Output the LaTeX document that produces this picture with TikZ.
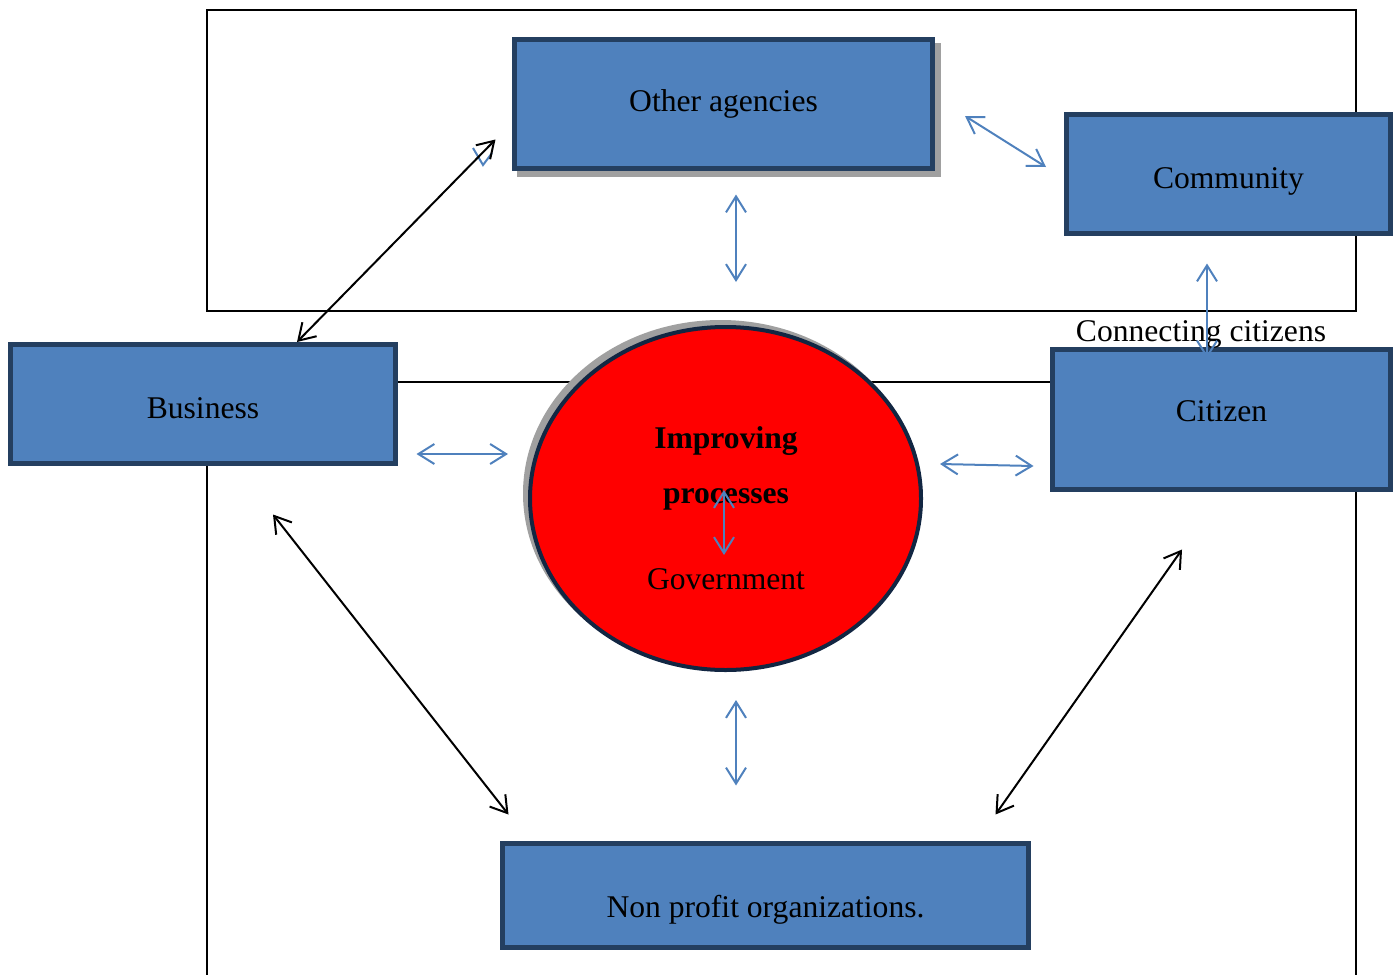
\documentclass[tikz,border=0pt]{standalone}
\usepackage{fontspec}
\setmainfont{Liberation Serif}
\usetikzlibrary{arrows.meta,shapes.geometric,calc}
\definecolor{boxblue}{RGB}{79,129,189}
\definecolor{boxedge}{RGB}{36,63,96}
\definecolor{ovaledge}{RGB}{18,38,66}
\definecolor{shadowgray}{RGB}{160,160,160}
\newcommand{\boxtext}[2]{\raisebox{#1}[\height][\depth]{#2}}

\begin{document}
\begin{tikzpicture}[x=0.5pt,y=-0.5pt,
        box/.style={draw=boxedge,fill=boxblue,line width=2.5pt,inner sep=0pt,font=\fontsize{15.8}{19}\selectfont},
        txt/.style={inner sep=0pt,anchor=base,font=\fontsize{15.8}{19}\selectfont},
        link/.style={draw=boxblue,line width=1pt,{Straight Barb[length=8pt,width=10pt]}-{Straight Barb[length=8pt,width=10pt]}},
        blink/.style={draw=black,line width=1pt,{Straight Barb[length=8pt,width=10pt]}-{Straight Barb[length=8pt,width=10pt]}}]
                \clip (0,0) rectangle (1400,974);
                \draw[line width=0.7pt] (207,10) rectangle (1356,311);
                \draw[line width=0.7pt] (207,382) rectangle (1356,1000);

                \fill[shadowgray] (517,43) rectangle (941,177);
                \node[box,minimum width=209pt,minimum height=64.5pt] (oa) at (723.5,104) {Other agencies};
                \node[box,minimum width=162pt,minimum height=59.5pt] (comm) at (1228.5,174) {\boxtext{-3.5pt}{Community}};
                \node[box,minimum width=169pt,minimum height=70pt] (cit) at (1221.5,419.5) {\boxtext{4.3pt}{Citizen}};
                \node[box,minimum width=192.5pt,minimum height=59.5pt] (biz) at (203,404) {\boxtext{-1.9pt}{Business}};
                \node[box,minimum width=263pt,minimum height=52pt] (npo) at (765.5,895.5) {\boxtext{-6.9pt}{Non profit organizations.}};

                \fill[shadowgray] (720.5,493.5) ellipse [x radius=197.5, y radius=173.5];
                \node[ellipse,draw=ovaledge,fill=red,line width=2pt,inner sep=0pt,minimum width=195.5pt,minimum height=171.5pt] (gov) at (725.5,498.5) {};
                \node[txt] (impr) at (726,448) {\bfseries Improving};
                \node[txt] (proc) at (726,503) {\bfseries processes};
                \node[txt] (govt) at (726,589) {Government};
                \node[txt] (conn) at (1201,341) {Connecting citizens};

                \draw[link] ($(oa.east)+(30,12)$) -- ($(comm.west)+(-18,-7)$);
                \draw[link] ($(oa.south)+(12.5,23.5)$) -- ($(gov.north)+(10.5,-43)$);
                \draw[link] ($(comm.south)+(-21.5,27.5)$) -- ($(cit.north)+(-14.5,11.5)$);
                \draw[link] ($(biz.east)+(18.5,50)$) -- ($(gov.west)+(-20,-44.5)$);
                \draw[link] ($(gov.east)+(17,-34.5)$) -- ($(cit.west)+(-16.5,46.5)$);
                \draw[link] ($(gov.center)+(-1.5,-8.5)$) -- ($(gov.center)+(-1.5,56.5)$);
                \draw[link] ($(gov.south)+(10.5,28)$) -- ($(npo.north)+(-29.5,-55.5)$);
                \draw[boxblue,line width=1pt] (473,148) -- (483,165) -- (492,153);

                \draw[blink] ($(biz.north)+(94,0)$) -- ($(oa.south west)+(-16.5,-31.5)$);
                \draw[blink] ($(biz.south)+(70,48.5)$) -- ($(npo.north west)+(8.5,-26.5)$);
                \draw[blink] ($(cit.south)+(-39.5,57.5)$) -- ($(npo.north east)+(-35.5,-26.5)$);
            \end{tikzpicture}
\end{document}
